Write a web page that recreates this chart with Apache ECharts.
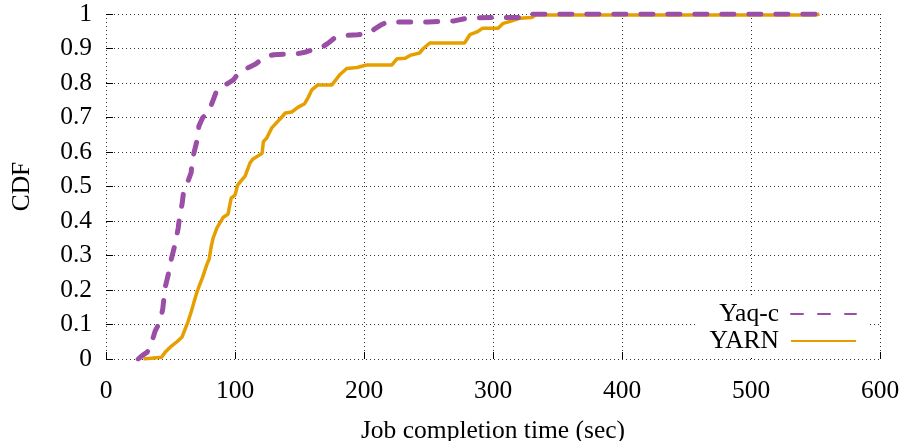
<!DOCTYPE html>
<html>
<head>
<meta charset="utf-8">
<script src="https://cdn.jsdelivr.net/npm/echarts@6/dist/echarts.min.js"></script>
<style>
html,body{margin:0;padding:0;background:#fff;}
#chart{width:904px;height:441px;}
</style>
</head>
<body>
<div id="chart"></div>
<script>
const seriesNames = ['Yaq-c', 'YARN'];
const xTicks = [0, 100, 200, 300, 400, 500, 600];
const yTicks = [0, 0.1, 0.2, 0.3, 0.4, 0.5, 0.6, 0.7, 0.8, 0.9, 1];

const yaqX = [25,28,32,36,38,42,44,45,46,48,50,52,54,56,57,59,60,63,66,67,69,71,72,75,78,80,84,86,90,95,99,103,111,116,120,125,130,145,150,155,163,168,172,177,183,195,203,208,213,218,250,270,280,300,318,322,331,553];
const yaqY = [0,0.01,0.02,0.055,0.08,0.11,0.145,0.18,0.21,0.24,0.28,0.31,0.34,0.38,0.41,0.45,0.48,0.51,0.54,0.58,0.61,0.64,0.675,0.70,0.71,0.72,0.76,0.78,0.79,0.80,0.81,0.83,0.846,0.855,0.867,0.878,0.882,0.884,0.886,0.89,0.90,0.905,0.915,0.93,0.937,0.94,0.943,0.956,0.968,0.977,0.977,0.98,0.988,0.99,0.99,0.99,1,1];

const yarnX = [29,43,46,50,55,59,62,63.5,66,68,70.5,72,75,78,80,81.5,83,86,90.7,94.6,97,100,102,107.8,111.6,114,121,122,124.5,128.5,130,136,139,144,149,154,157,159.5,164,175,181,186.6,194.5,202,221.5,225.5,232,235.6,243,246,251,278,282,287.6,292,304,308,314.7,321,330,333,550,553];
const yarnY = [0,0.005,0.02,0.035,0.05,0.064,0.093,0.107,0.136,0.162,0.194,0.209,0.238,0.272,0.29,0.325,0.35,0.38,0.41,0.42,0.466,0.475,0.504,0.53,0.568,0.58,0.596,0.63,0.64,0.67,0.675,0.70,0.713,0.716,0.73,0.74,0.76,0.78,0.794,0.794,0.823,0.842,0.845,0.852,0.852,0.87,0.872,0.88,0.887,0.90,0.916,0.916,0.94,0.948,0.959,0.959,0.973,0.98,0.988,0.99,0.997,0.997,1];

const pair = (xs, ys) => xs.map((x, i) => [x, ys[i]]);
const FONT = "'Liberation Serif','Times New Roman',serif";
const FS = 25.5;

const chart = echarts.init(document.getElementById('chart'), null, {renderer: 'canvas'});
chart.setOption({
  animation: false,
  backgroundColor: '#fff',
  grid: {left: 106, right: 24, top: 14, bottom: 82, containLabel: false, outerBoundsMode: 'none'},
  xAxis: {
    type: 'value', min: xTicks[0], max: xTicks[xTicks.length - 1], interval: 100,
    name: 'Job completion time (sec)', nameLocation: 'middle', nameGap: 59,
    nameTextStyle: {fontFamily: FONT, fontSize: FS, color: '#000'},
    axisLine: {show: false},
    axisTick: {show: true, inside: true, length: 7, lineStyle: {color: '#000', width: 1}},
    axisLabel: {fontFamily: FONT, fontSize: FS, color: '#000', margin: 19},
    splitLine: {show: true, lineStyle: {color: '#333', width: 1, type: [1, 3]}}
  },
  yAxis: {
    type: 'value', min: yTicks[0], max: yTicks[yTicks.length - 1], interval: 0.1,
    name: 'CDF', nameLocation: 'middle', nameGap: 71,
    nameTextStyle: {fontFamily: FONT, fontSize: FS, color: '#000'},
    axisLine: {show: false},
    axisTick: {show: true, inside: true, length: 7, lineStyle: {color: '#000', width: 1}},
    axisLabel: {fontFamily: FONT, fontSize: FS, color: '#000', margin: 14},
    splitLine: {show: true, lineStyle: {color: '#333', width: 1, type: [1, 3]}}
  },
  legend: {
    orient: 'vertical', align: 'right',
    right: 35, top: 297,
    padding: [4, 12, 4, 12],
    backgroundColor: '#fff',
    itemWidth: 65, itemHeight: 14, itemGap: 1,
    itemStyle: {opacity: 0, borderWidth: 0},
    textStyle: {fontFamily: FONT, fontSize: FS, color: '#000', padding: [0, 7, 0, 0]},
    data: seriesNames
  },
  series: [
    {
      name: seriesNames[0], type: 'line', data: pair(yaqX, yaqY),
      showSymbol: false, symbol: 'none', z: 3,
      lineStyle: {color: '#9a4ea6', width: 5, type: [12, 15], cap: 'round'},
      itemStyle: {color: '#9a4ea6'}
    },
    {
      name: seriesNames[1], type: 'line', data: pair(yarnX, yarnY),
      showSymbol: false, symbol: 'none', z: 2,
      lineStyle: {color: '#e69f00', width: 3.5},
      itemStyle: {color: '#e69f00'}
    }
  ]
});
</script>
</body>
</html>
